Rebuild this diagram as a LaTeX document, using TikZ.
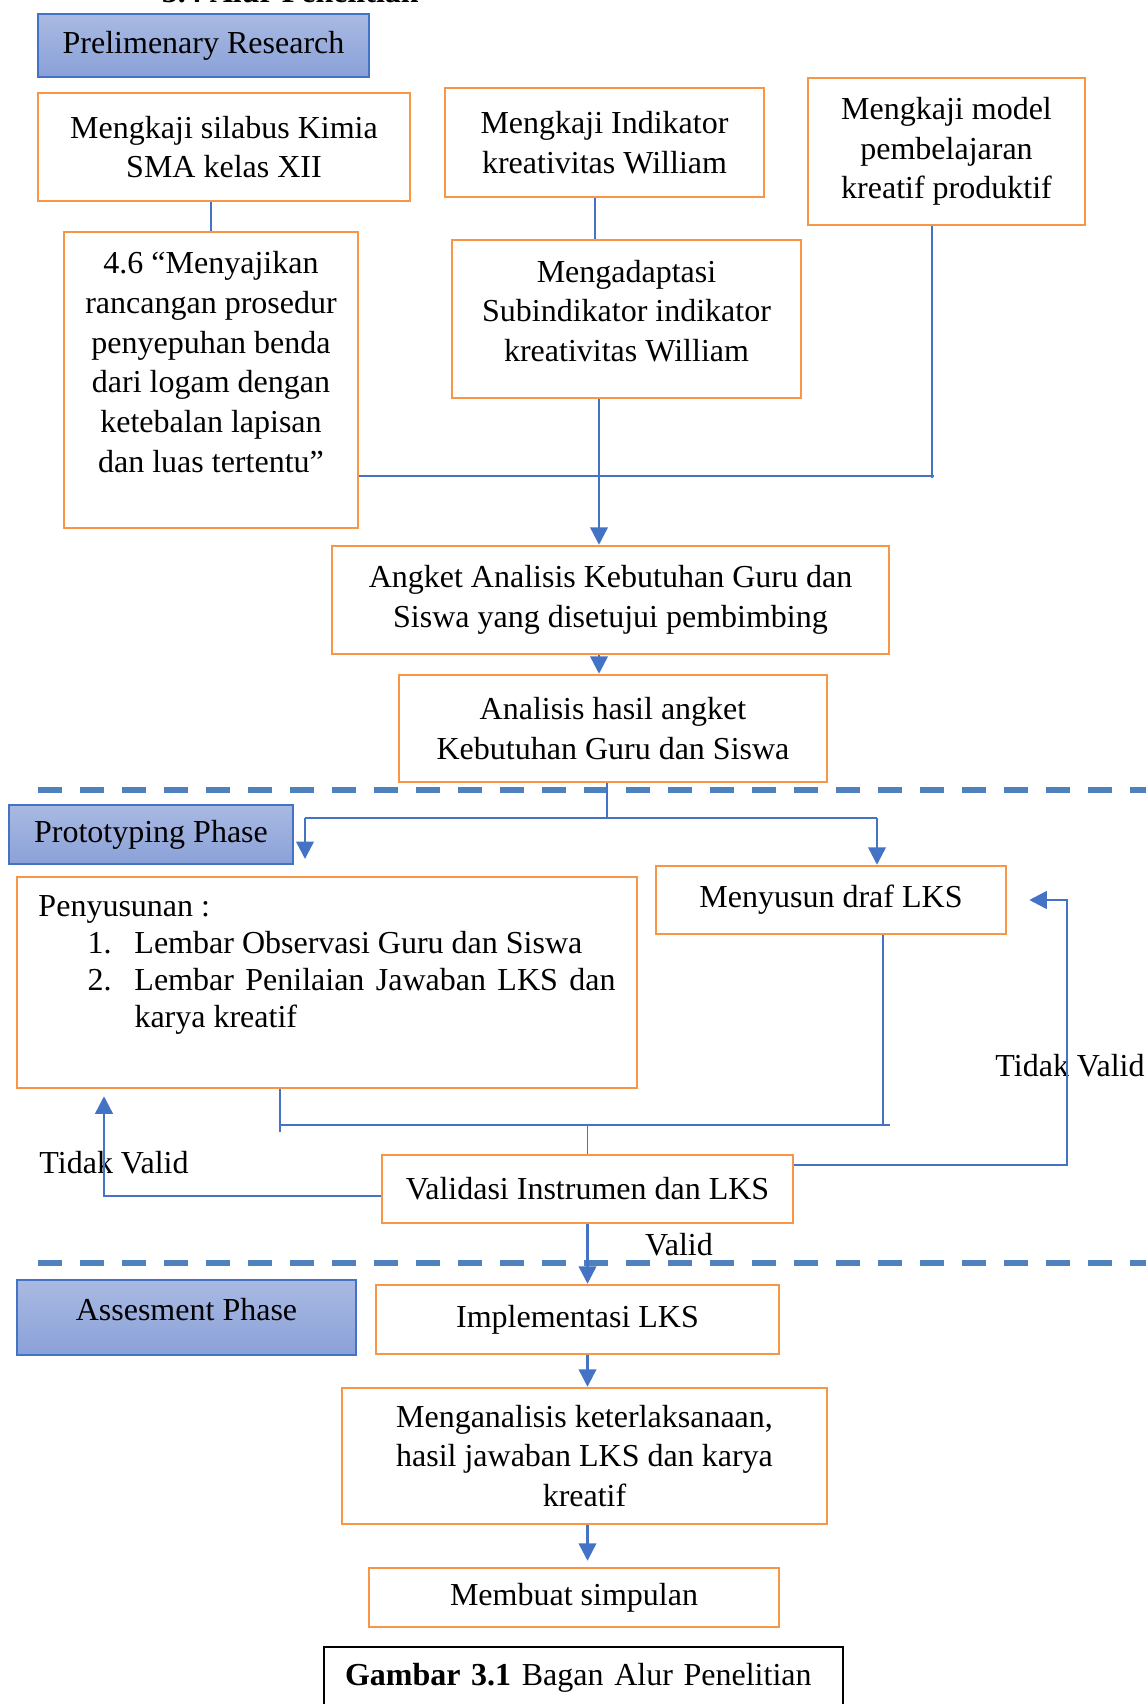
\documentclass[tikz,border=0pt]{standalone}
\usepackage{fontspec}
\setmainfont{Liberation Serif}
\usepackage{tikz}
\usetikzlibrary{arrows.meta}
\definecolor{oranye}{HTML}{F79646}
\definecolor{biru}{HTML}{4472C4}
\definecolor{garis}{HTML}{4F81BD}
\definecolor{fasatas}{HTML}{A9B9E2}
\definecolor{fasbawah}{HTML}{8AA1D8}

\begin{document}
\begin{tikzpicture}[x=0.4pt, y=-0.4pt, >={Triangle[length=7pt,width=7pt]},
  every node/.style={font=\fontsize{12.8}{15.9}\selectfont, align=center},
  kotak/.style={draw=oranye, line width=1pt, inner sep=2pt},
  fase/.style={draw=biru, line width=0.6pt, top color=fasatas, bottom color=fasbawah},
  conn/.style={biru, line width=0.5pt},
  arr/.style={->, biru, line width=1pt},
  pembatas/.style={garis, line width=2.2pt, dash pattern=on 9.6pt off 7.2pt}]
  \useasboundingbox (0,0) rectangle (1146,1704);
  \node[anchor=base west, font=\fontsize{12.8}{15.9}\selectfont\bfseries] (judul) at (153,3) {3.4 Alur Penelitian};
  \node[fase, minimum width=132.4pt, minimum height=25.2pt] (prelim) at (203.5,45.5) {Prelimenary Research};
  \node[kotak, minimum width=148.8pt, minimum height=43.2pt] (silabus) at (224,147) {Mengkaji silabus Kimia\\SMA kelas XII};
  \node[kotak, minimum width=127.6pt, minimum height=43.6pt] (indikator) at (604.5,142.5) {Mengkaji Indikator\\kreativitas William};
  \node[kotak, minimum width=110.8pt, minimum height=58.8pt] (model) at (946.5,151.5) {Mengkaji model\\pembelajaran\\kreatif produktif};
  \node[kotak, minimum width=117.6pt, minimum height=118.4pt] (std) at (211,380) {};
  \node (stdteks) at (211,362) {4.6 “Menyajikan\\rancangan prosedur\\penyepuhan benda\\dari logam dengan\\ketebalan lapisan\\dan luas tertentu”};
  \node[kotak, minimum width=139.6pt, minimum height=63.2pt] (adaptasi) at (626.5,319) {};
  \node (adaptasiteks) at (626.5,311) {Mengadaptasi\\Subindikator indikator\\kreativitas William};
  \node[kotak, minimum width=222.8pt, minimum height=43.2pt] (angket) at (610.5,600) {Angket Analisis Kebutuhan Guru dan\\Siswa yang disetujui pembimbing};
  \node[kotak, minimum width=171.2pt, minimum height=42.8pt] (analisis) at (613,728.5) {Analisis hasil angket\\Kebutuhan Guru dan Siswa};

  \node[fase, minimum width=113.6pt, minimum height=23.6pt] (proto) at (151,834.5) {Prototyping Phase};
  \node[kotak, minimum width=140pt, minimum height=27.2pt] (drafLKS) at (831,900) {Menyusun draf LKS};
  \node[kotak, minimum width=248pt, minimum height=84.4pt] (penyusunan) at (327,982.5) {};
  \node[anchor=north west, inner sep=0pt, align=left, font=\fontsize{12.8}{14.8}\selectfont] (penyteks) at (38,895) {Penyusunan :\\
    \hspace*{19.6pt}\makebox[18.8pt][l]{1.}Lembar Observasi Guru dan Siswa\\
    \hspace*{19.6pt}\makebox[18.8pt][l]{2.}\makebox[192.4pt][s]{Lembar Penilaian Jawaban LKS dan}\\
    \hspace*{38.4pt}karya kreatif};
  \node[kotak, minimum width=164.4pt, minimum height=27.2pt] (validasi) at (587.5,1189) {Validasi Instrumen dan LKS};
  \node (tvkiri) at (114,1163) {Tidak Valid};
  \node (tvkanan) at (1070,1066) {Tidak Valid};
  \node (valid) at (679,1245) {Valid};

  \node[fase, minimum width=135.6pt, minimum height=30pt, text height=8pt, text depth=6pt] (asesmen) at (186.5,1317.5) {Assesment Phase};
  \node[kotak, minimum width=161.2pt, minimum height=27.6pt] (implementasi) at (577.5,1319.5) {Implementasi LKS};
  \node[kotak, minimum width=194pt, minimum height=54.4pt] (menganalisis) at (584.5,1456) {Menganalisis keterlaksanaan,\\hasil jawaban LKS dan karya\\kreatif};
  \node[kotak, minimum width=164pt, minimum height=23.6pt] (simpulan) at (574,1597.5) {Membuat simpulan};
  \node[draw=black, line width=0.8pt, anchor=north, text width=190.8pt, inner xsep=8.4pt, inner ysep=4pt, align=left, text height=11.2pt, text depth=14.4pt] (keterangan) at (583.5,1646) {\textbf{Gambar 3.1} Bagan Alur Penelitian};

  \draw[pembatas] (38,790) -- (1146,790);
  \draw[pembatas] (38,1263) -- (1146,1263);

  \coordinate (hub) at (599,476);
  \coordinate (ujungkanan) at (932,478);
  \draw[conn] (std.north) -- (std.north |- silabus.south);
  \draw[conn] ([xshift=-3.8pt]indikator.south) -- ([xshift=-3.8pt]indikator.south |- adaptasi.north);
  \draw[conn] (std.east |- hub) -- ([xshift=0.8pt]hub -| ujungkanan);
  \draw[conn] (model.south -| ujungkanan) -- (ujungkanan);
  \draw[conn] (adaptasi.south -| hub) -- (hub);
  \draw[arr] (hub) -- (hub |- angket.north);
  \draw[arr] (angket.south -| hub) -- (analisis.north -| hub);

  \coordinate (cabang) at (607,818);
  \coordinate (kiri) at (305,859);
  \coordinate (kanan) at (877,818);
  \draw[conn] (analisis.south -| cabang) -- (cabang);
  \draw[conn] (cabang -| kiri) -- (kanan);
  \draw[arr] (cabang -| kiri) -- (kiri);
  \draw[arr] (kanan) -- (kanan |- drafLKS.north);

  \coordinate (gabkiri) at (280,1125);
  \coordinate (gabkanan) at (883,1125);
  \draw[conn] (penyusunan.south -| gabkiri) -- ([yshift=-2.8pt]gabkiri);
  \draw[conn] (drafLKS.south -| gabkanan) -- (gabkanan);
  \draw[conn] (gabkiri) -- ([xshift=2.8pt]gabkanan);
  \draw[conn] (validasi.north |- gabkiri) -- (validasi.north);

  \coordinate (balikkiri) at (104,1196);
  \coordinate (balikkanan) at (1067,1165);
  \draw[arr] (validasi.west |- balikkiri) -- (balikkiri) -- ([yshift=-2.8pt]penyusunan.south -| balikkiri);
  \draw[arr] (validasi.east |- balikkanan) -- (balikkanan) |- ([xshift=8.8pt]drafLKS.east);
  \draw[arr] (validasi.south) -- (validasi.south |- implementasi.north);
  \draw[arr] (implementasi.south -| validasi.south) -- (menganalisis.north -| validasi.south);
  \draw[arr] (menganalisis.south -| validasi.south) -- ([yshift=2.4pt]simpulan.north -| validasi.south);
\end{tikzpicture}
\end{document}
